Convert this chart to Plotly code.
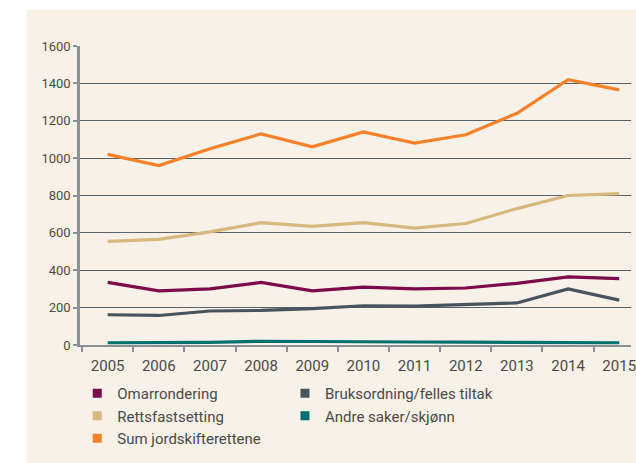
import plotly.graph_objects as go

years = ['2005', '2006', '2007', '2008', '2009', '2010',
         '2011', '2012', '2013', '2014', '2015']

omarrondering = [335, 290, 300, 335, 290, 310, 300, 305, 330, 365, 355]
bruksordning = [162, 158, 182, 185, 195, 210, 208, 215, 225, 300, 240]
rettsfastsetting = [555, 565, 605, 655, 635, 655, 625, 650, 730, 800, 810]
andre = [12, 12, 14, 20, 20, 18, 16, 15, 14, 13, 12]
sum_jordskifte = [1020, 960, 1050, 1130, 1060, 1140, 1080, 1125, 1240, 1420, 1365]

y_ticks = [0, 200, 400, 600, 800, 1000, 1200, 1400, 1600]

# name, values, colour, legend column
series = [
    ('Omarrondering', omarrondering, '#7d0a4a', 'legend'),
    ('Bruksordning/felles tiltak', bruksordning, '#47545e', 'legend2'),
    ('Rettsfastsetting', rettsfastsetting, '#d8b87e', 'legend'),
    ('Andre saker/skjønn', andre, '#00706e', 'legend2'),
    ('Sum jordskifterettene', sum_jordskifte, '#f5822a', 'legend'),
]

fig = go.Figure()

# the lines themselves, sum drawn last so it sits on top
for name, values, color, leg in series:
    fig.add_trace(go.Scatter(
        x=years, y=values, mode='lines', name=name,
        line={'color': color, 'width': 3.2},
        showlegend=False, hoverinfo='x+y+name'
    ))

# square legend markers, split over two columns
for name, values, color, leg in series:
    fig.add_trace(go.Scatter(
        x=[None], y=[None], mode='markers', name=name,
        marker={'symbol': 'square', 'size': 9, 'color': color},
        showlegend=True, legend=leg
    ))

legend_style = {
    'orientation': 'v',
    'y': -0.107,
    'xanchor': 'left', 'yanchor': 'top',
    'font': {'size': 15, 'color': '#4a4a4a'},
    'bgcolor': 'rgba(0,0,0,0)',
    'itemwidth': 30,
    'tracegroupgap': 0,
}

fig.update_layout(
    width=636,
    height=463,
    margin={'l': 80, 'r': 0, 't': 46, 'b': 118},
    paper_bgcolor='white',
    plot_bgcolor='rgba(0,0,0,0)',
    font={'family': 'Roboto, sans-serif', 'color': '#4a4a4a'},
    shapes=[{
        'type': 'rect', 'xref': 'paper', 'yref': 'paper',
        'x0': -0.097, 'x1': 1.05, 'y0': -0.5, 'y1': 1.12,
        'fillcolor': '#f7f1e8', 'line': {'width': 0}, 'layer': 'below'
    }],
    xaxis={
        'type': 'category',
        'range': [-0.54, 10.23],
        'tickson': 'boundaries',
        'ticks': 'outside', 'ticklen': 5, 'tickwidth': 1.5,
        'tickcolor': '#8a9096',
        'ticklabelstandoff': 6,
        'showgrid': False,
        'showline': True, 'linecolor': '#8a9096', 'linewidth': 2,
        'tickfont': {'size': 15, 'color': '#4a4a4a'},
    },
    yaxis={
        'range': [0, 1600],
        'tickvals': y_ticks,
        'ticks': 'outside', 'ticklen': 4, 'tickwidth': 1.5,
        'tickcolor': '#8a9096',
        'showgrid': True, 'gridcolor': '#5a6168', 'gridwidth': 1.3,
        'showline': True, 'linecolor': '#8a9096', 'linewidth': 2.5,
        'zeroline': False,
        'tickfont': {'size': 13, 'color': '#4a4a4a'},
    },
    legend={**legend_style, 'x': -0.005},
    legend2={**legend_style, 'x': 0.372},
)

# drop the default body margin so the figure fills the window
fig.write_html('out.html', config={'displayModeBar': False},
               post_script="document.body.style.margin = '0';")
